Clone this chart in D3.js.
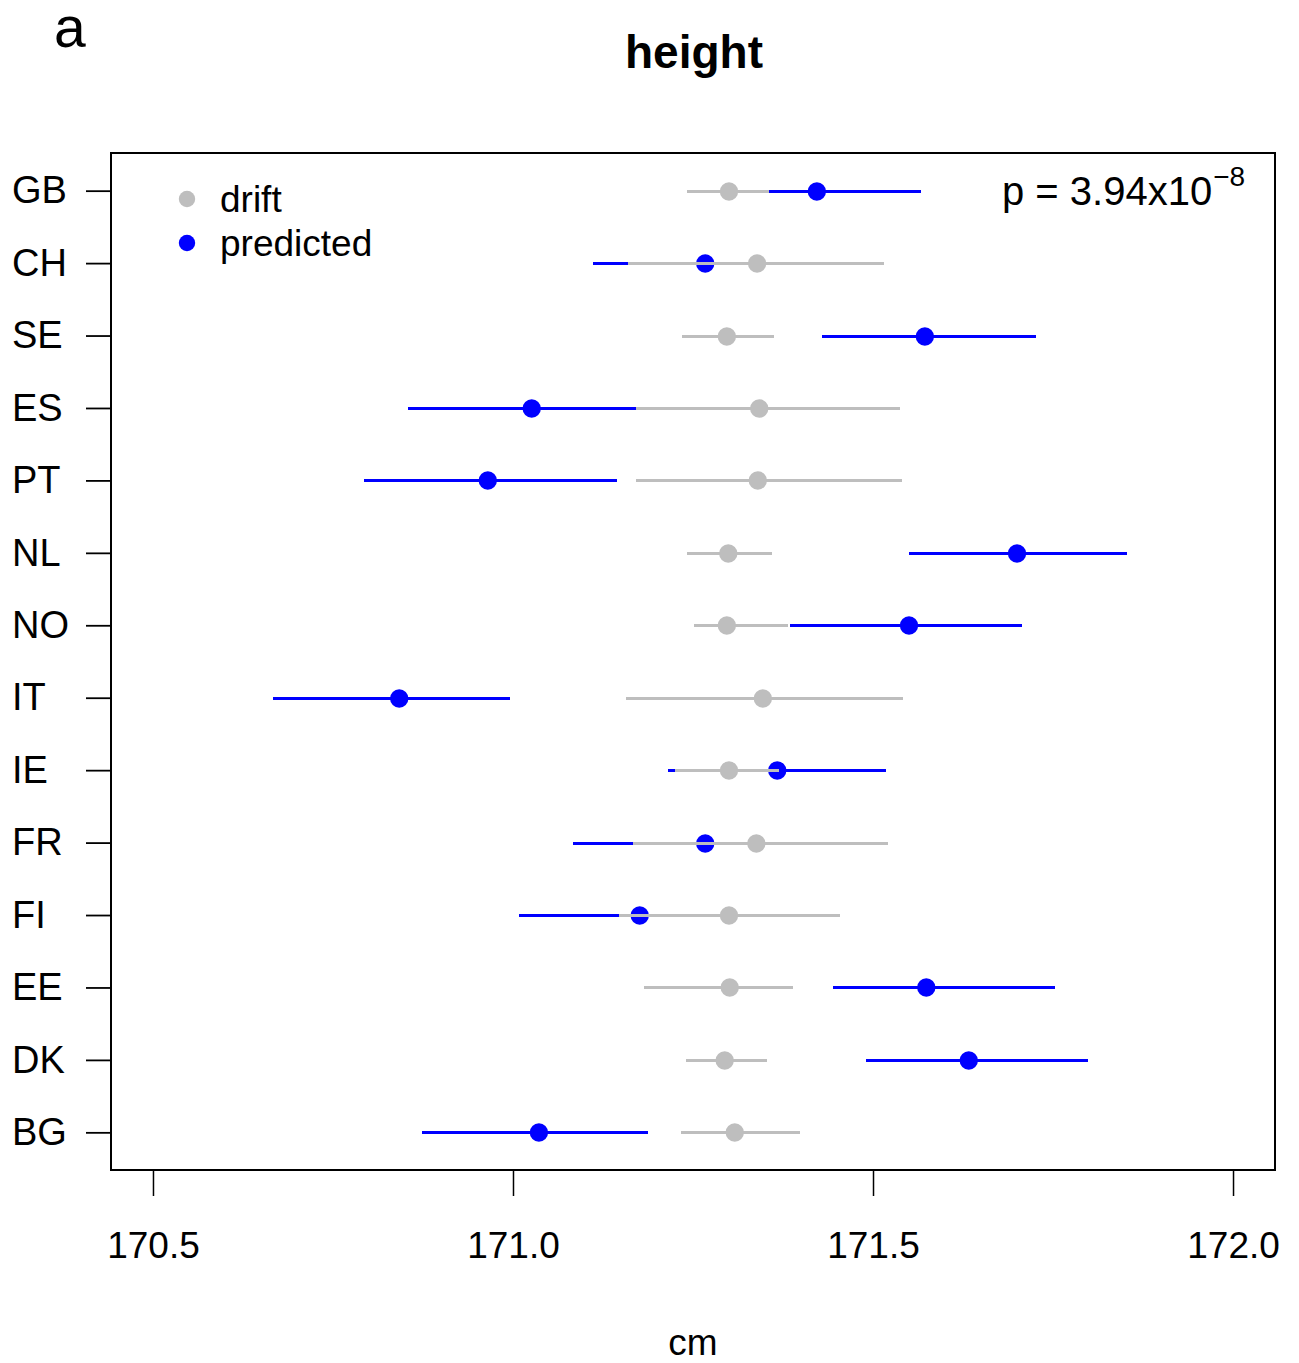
<!DOCTYPE html>
<html>
<head>
<meta charset="utf-8">
<script src="https://cdn.jsdelivr.net/npm/d3@7"></script>
<style>
  html, body { margin: 0; padding: 0; background: #fff; }
  svg { display: block; font-family: "Liberation Sans", Arial, Helvetica, sans-serif; }
</style>
</head>
<body>
<svg id="chart" width="1299" height="1363"></svg>
<script>
const countries = ["GB","CH","SE","ES","PT","NL","NO","IT","IE","FR","FI","EE","DK","BG"];
const driftMid = [171.300,171.339,171.297,171.342,171.340,171.299,171.297,171.347,171.300,171.338,171.300,171.301,171.294,171.308];
const driftLo  = [171.242,171.160,171.235,171.171,171.171,171.242,171.251,171.157,171.225,171.167,171.147,171.182,171.240,171.233];
const driftHi  = [171.356,171.515,171.363,171.538,171.540,171.360,171.382,171.542,171.369,171.521,171.454,171.389,171.353,171.399];
const predMid  = [171.422,171.267,171.572,171.026,170.965,171.700,171.550,170.842,171.367,171.267,171.176,171.574,171.633,171.036];
const predLo   = [171.278,171.111,171.429,170.854,170.793,171.550,171.385,170.667,171.215,171.083,171.008,171.444,171.490,170.874];
const predHi   = [171.567,171.422,171.726,171.199,171.144,171.853,171.707,170.996,171.518,171.450,171.344,171.753,171.799,171.188];
const xTicks = [170.5, 171.0, 171.5, 172.0];
const legendLabels = ["drift", "predicted"];
const titleText = "height";
const panelLabel = "a";
const xLabel = "cm";

const svg = d3.select("#chart");
const L = 111, R = 1275, T = 153, B = 1170;
const x = d3.scaleLinear().domain([170.4417, 172.0583]).range([L, R]);
const y = d3.scaleLinear().domain([0.48, countries.length + 0.52]).range([T, B]);
const grey = "#bebebe", blue = "#0000ff";
const ry = p => Math.round(y(p)) + 0.5;

const rows = countries.map((c, i) => ({
  c, pos: i + 1,
  dLo: driftLo[i], dMid: driftMid[i], dHi: driftHi[i],
  pLo: predLo[i], pMid: predMid[i], pHi: predHi[i]
}));

// predicted series first
svg.append("g").selectAll("line").data(rows).join("line")
  .attr("x1", d => x(d.pLo)).attr("x2", d => x(d.pHi))
  .attr("y1", d => ry(d.pos)).attr("y2", d => ry(d.pos))
  .attr("stroke", blue).attr("stroke-width", 3).attr("shape-rendering", "crispEdges");
svg.append("g").selectAll("circle").data(rows).join("circle")
  .attr("cx", d => x(d.pMid)).attr("cy", d => ry(d.pos)).attr("r", 9.2)
  .attr("fill", blue);
// drift series on top
svg.append("g").selectAll("line").data(rows).join("line")
  .attr("x1", d => x(d.dLo)).attr("x2", d => x(d.dHi))
  .attr("y1", d => ry(d.pos)).attr("y2", d => ry(d.pos))
  .attr("stroke", grey).attr("stroke-width", 3).attr("shape-rendering", "crispEdges");
svg.append("g").selectAll("circle").data(rows).join("circle")
  .attr("cx", d => x(d.dMid)).attr("cy", d => ry(d.pos)).attr("r", 9.2)
  .attr("fill", grey);

// box
svg.append("rect").attr("x", L).attr("y", T).attr("width", R - L).attr("height", B - T)
  .attr("fill", "none").attr("stroke", "#000").attr("stroke-width", 2);

// y axis (labels left-aligned at the page margin)
const yAxis = svg.append("g").attr("transform", `translate(${L},0)`)
  .call(d3.axisLeft(y).tickValues(rows.map(d => d.pos))
    .tickFormat(p => countries[p - 1]).tickSize(25).tickPadding(18).tickSizeOuter(0));
yAxis.select(".domain").remove();
yAxis.selectAll(".tick line").attr("stroke", "#000").attr("stroke-width", 1.8);
yAxis.selectAll(".tick text").attr("font-size", 38).attr("fill", "#000")
  .attr("text-anchor", "start").attr("x", 12 - L)
  .attr("font-family", '"Liberation Sans", Arial, sans-serif');

// x axis
const xAxis = svg.append("g").attr("transform", `translate(0,${B})`)
  .call(d3.axisBottom(x).tickValues(xTicks).tickFormat(d3.format(".1f"))
    .tickSize(26).tickPadding(36).tickSizeOuter(0));
xAxis.select(".domain").remove();
xAxis.selectAll(".tick line").attr("stroke", "#000").attr("stroke-width", 1.5);
xAxis.selectAll(".tick text").attr("font-size", 37).attr("fill", "#000")
  .attr("font-family", '"Liberation Sans", Arial, sans-serif');

// x label
svg.append("text").attr("x", 693).attr("y", 1355).attr("text-anchor", "middle")
  .attr("font-size", 37).text(xLabel);

// title
svg.append("text").attr("x", 694).attr("y", 68).attr("text-anchor", "middle")
  .attr("font-size", 46).attr("font-weight", "bold").text(titleText);

// panel label
svg.append("text").attr("x", 54).attr("y", 47).attr("font-size", 57).text(panelLabel);

// legend
const legColors = [grey, blue];
const leg = svg.append("g");
legendLabels.forEach((lab, i) => {
  leg.append("circle").attr("cx", 187).attr("cy", 199 + i * 44).attr("r", 8.2).attr("fill", legColors[i]);
  leg.append("text").attr("x", 220).attr("y", 212 + i * 44).attr("font-size", 37).text(lab);
});

// p-value
const pt = svg.append("text").attr("x", 1002).attr("y", 205).attr("font-size", 40);
pt.append("tspan").text("p = 3.94x10");
pt.append("tspan").attr("dy", -19).attr("dx", 1).attr("font-size", 28).text("\u22128");
</script>
</body>
</html>
